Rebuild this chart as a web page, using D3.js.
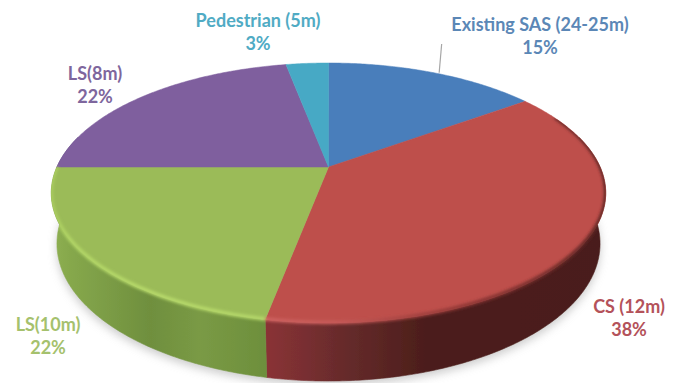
<!DOCTYPE html>
<html>
<head>
<meta charset="utf-8">
<script src="https://cdn.jsdelivr.net/npm/d3@7/dist/d3.min.js"></script>
<style>
  html, body { margin: 0; padding: 0; background: #fff; }
  svg { display: block; }
  text { font-family: Lato, "Open Sans", sans-serif; font-weight: 700; font-size: 18px; text-anchor: middle; }
</style>
</head>
<body>
<svg id="chart" width="680" height="383"></svg>
<script>
// Road-type share of the network
const categories = ["Existing SAS (24-25m)", "CS (12m)", "LS(10m)", "LS(8m)", "Pedestrian (5m)"];
const shares = [15, 38, 22, 22, 3];

// Styling, one entry per category
const topColors = ["#4a7ebb", "#be4f4c", "#9bbb59", "#7f5f9e", "#46a9c5"];
const labelColors = ["#5b87b6", "#b4525a", "#a5c16d", "#7e669d", "#50abc4"];
const sideStops = [
  { x: [300, 560], c: ["#3a5f8d", "#3a5f8d"] },
  { x: [266, 345, 425, 610], c: ["#8a3236", "#662b2b", "#4c1e1b", "#4a1e1b"] },
  { x: [50, 70, 150, 200, 266], c: ["#8fb052", "#86a84c", "#6f8f3e", "#7a9a45", "#6d8f3c"] },
  { x: [50, 300], c: ["#5f4780", "#5f4780"] },
  { x: [280, 330], c: ["#35849b", "#35849b"] }
];
const rimStops = [
  { x: [300, 560], c: ["#4a7ebb", "#4a7ebb"] },
  { x: [266, 340, 400, 470, 610], c: ["#cf6361", "#c55a58", "#a84543", "#8a3432", "#5a2422"] },
  { x: [50, 70, 150, 266], c: ["#a9cc5e", "#b3d766", "#b9dc6c", "#b5d86a"] },
  { x: [50, 300], c: ["#7f5f9e", "#7f5f9e"] },
  { x: [280, 330], c: ["#46a9c5", "#46a9c5"] }
];
const labelPlaces = [
  { x: 540, y: 31 }, { x: 629, y: 313 }, { x: 48, y: 331 }, { x: 95, y: 80 }, { x: 258, y: 27 }
];

// Tilted disc: unit-circle point to screen, with a far edge foreshortened
const cx = 328.5, cy = 167, radiusX = 271.6, radiusY = 124.8, tilt = 0.2;
const thickness = 50.7, thicknessFall = 0.02;

function project(theta, depth) {
  const u = Math.sin(theta), v = -Math.cos(theta);
  const w = 1 - tilt * v + thicknessFall * depth;
  return [cx + radiusX * u / w, cy + (radiusY * v + thickness * depth) / w];
}

const svg = d3.select("#chart");
const line = d3.line();
const defs = svg.append("defs");
[["soft", 5], ["rim", 1.5], ["edge", 0.45]].forEach(([id, sd]) => {
  defs.append("filter").attr("id", id)
    .attr("filterUnits", "userSpaceOnUse")
    .attr("x", 0).attr("y", 0).attr("width", 680).attr("height", 383)
    .append("feGaussianBlur").attr("stdDeviation", sd);
});

const arcs = d3.pie().sort(null).value(d => d)(shares);
const sampled = (a0, a1, depth, step = 0.01) =>
  d3.range(a0, a1, step).concat([a1]).map(t => project(t, depth));

// Horizontal gradients, since the shading of the wall and bevel runs left to right
function addGradient(id, stops) {
  const x0 = stops.x[0], x1 = stops.x[stops.x.length - 1];
  const g = defs.append("linearGradient").attr("id", id)
    .attr("gradientUnits", "userSpaceOnUse")
    .attr("x1", x0).attr("x2", x1).attr("y1", 0).attr("y2", 0);
  stops.x.forEach((x, i) => g.append("stop")
    .attr("offset", (x - x0) / (x1 - x0)).attr("stop-color", stops.c[i]));
}
sideStops.forEach((s, i) => addGradient("side" + i, s));
rimStops.forEach((s, i) => addGradient("rim" + i, s));

const wallStart = Math.PI * 0.42, wallEnd = Math.PI * 1.58;
const wallSpans = arcs
  .map((a, i) => ({ i, a0: Math.max(a.startAngle, wallStart), a1: Math.min(a.endAngle, wallEnd) }))
  .filter(s => s.a1 > s.a0);
const wallPath = s => line(sampled(s.a0, s.a1, 0).concat(sampled(s.a0, s.a1, 1).reverse())) + "Z";

// Outline of the whole solid, used to keep the bevel blur inside it
const clip = defs.append("clipPath").attr("id", "solid");
clip.append("path").attr("d", line(sampled(0, 2 * Math.PI, 0)) + "Z");
wallSpans.forEach(s => clip.append("path").attr("d", wallPath(s)));

// Soft ground shadow under the base
svg.append("path")
  .attr("d", line(sampled(0, 2 * Math.PI, 1)) + "Z")
  .attr("transform", "translate(0,4)")
  .attr("fill", "#a8a8a8").attr("opacity", 0.6)
  .attr("filter", "url(#soft)");

// Visible wall
svg.append("g").attr("filter", "url(#edge)")
  .selectAll("path").data(wallSpans).join("path")
  .attr("d", wallPath)
  .attr("fill", s => `url(#side${s.i})`)
  .attr("stroke", s => `url(#side${s.i})`)
  .attr("stroke-width", 0.6);

// Top face, one wedge per category
svg.append("g").attr("filter", "url(#edge)")
  .selectAll("path").data(arcs).join("path")
  .attr("d", a => line([[cx, cy]].concat(sampled(a.startAngle, a.endAngle, 0))) + "Z")
  .attr("fill", (a, i) => topColors[i])
  .attr("stroke", (a, i) => topColors[i])
  .attr("stroke-width", 0.5);

// Bevel along the near rim: bright on the green side, sinking into shadow on the red
const rimSpans = arcs
  .map((a, i) => ({ i, a0: Math.max(a.startAngle, Math.PI * 0.36), a1: Math.min(a.endAngle, Math.PI * 1.5) }))
  .filter(s => s.a1 > s.a0 && s.i < 3 && s.i > 0);
svg.append("g").attr("clip-path", "url(#solid)")
  .append("g").attr("filter", "url(#rim)")
  .selectAll("path").data(rimSpans).join("path")
  .attr("d", s => line(sampled(s.a0, s.a1, -0.01)))
  .attr("fill", "none")
  .attr("stroke", s => `url(#rim${s.i})`)
  .attr("stroke-width", 3.6);

// Leader line for the first label
const leaderAngle = arcs[0].startAngle + (arcs[0].endAngle - arcs[0].startAngle) * 0.53;
const leaderFoot = project(leaderAngle, 0);
svg.append("line")
  .attr("x1", leaderFoot[0] + 2.5).attr("y1", 44)
  .attr("x2", leaderFoot[0]).attr("y2", leaderFoot[1] - 1)
  .attr("stroke", "#a6a6a6").attr("stroke-width", 1.2);

// Category name with its share beneath
const labels = svg.selectAll("g.label").data(categories).join("g")
  .attr("class", "label")
  .attr("fill", (d, i) => labelColors[i])
  .attr("transform", (d, i) => `translate(${labelPlaces[i].x},${labelPlaces[i].y})`);
labels.append("text").text(d => d);
labels.append("text").attr("y", 23).text((d, i) => shares[i] + "%");
</script>
</body>
</html>
